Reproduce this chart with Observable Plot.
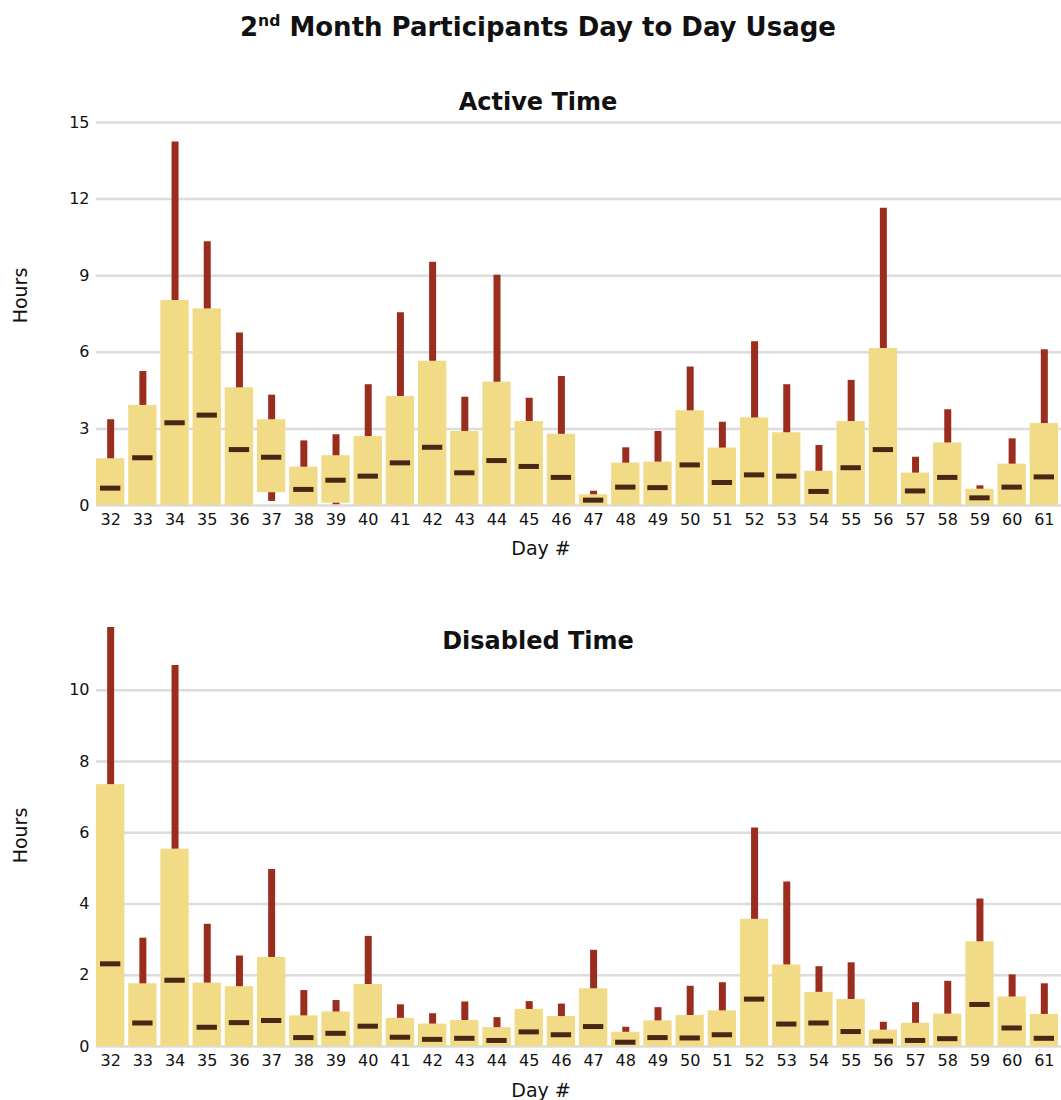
<!DOCTYPE html>
<html>
<head>
<meta charset="utf-8">
<script src="https://cdn.jsdelivr.net/npm/d3@7"></script>
<script src="https://cdn.jsdelivr.net/npm/@observablehq/plot@0.6"></script>
<style>
  body { margin: 0; background: #fff; font-family: "DejaVu Sans", sans-serif; }
  #wrap { position: relative; width: 1061px; height: 1100px; overflow: hidden; }
  #wrap svg { position: absolute; left: 0; }
  .lbl { position: absolute; white-space: nowrap; text-align: center; color: #111; line-height: 1; }
  .title { font-size: 26px; font-weight: bold; width: 800px; left: 138px; top: 14px; }
  .sub { font-size: 24px; font-weight: bold; width: 400px; left: 338px; }
  .xl { font-size: 19px; width: 200px; left: 441px; }
  .yl { font-size: 19px; width: 120px; left: -40px; transform: rotate(-90deg); }
  sup { font-size: 0.6em; line-height: 0; }
</style>
</head>
<body>
<div id="wrap"></div>
<script>
const days = [32,33,34,35,36,37,38,39,40,41,42,43,44,45,46,47,48,49,50,51,52,53,54,55,56,57,58,59,60,61];

// Active time (hours)
const activeLo  = [0,0,0,0,0,0.50,0,0.09,0,0,0,0,0,0,0,0,0,0,0,0,0,0,0,0,0,0,0,0,0,0];
const activeHi  = [1.83,3.92,8.03,7.70,4.61,3.36,1.50,1.95,2.70,4.27,5.65,2.90,4.83,3.29,2.79,0.42,1.66,1.70,3.71,2.25,3.43,2.85,1.34,3.29,6.15,1.27,2.45,0.64,1.62,3.21];
const activeMin = [0,0,0,0,0,0.16,0,0.03,0,0,0,0,0,0,0,0,0,0,0,0,0,0,0,0,0,0,0,0,0,0];
const activeMax = [3.36,5.25,14.24,10.33,6.76,4.32,2.53,2.77,4.73,7.55,9.53,4.24,9.02,4.20,5.05,0.56,2.26,2.90,5.42,3.26,6.41,4.73,2.35,4.90,11.64,1.89,3.75,0.77,2.61,6.10];
const activeMed = [0.68,1.87,3.24,3.54,2.19,1.89,0.63,0.99,1.15,1.67,2.28,1.28,1.76,1.53,1.10,0.21,0.72,0.70,1.59,0.90,1.20,1.15,0.55,1.48,2.19,0.57,1.10,0.30,0.72,1.12];
const activeTicks = [0,3,6,9,12,15];

// Disabled time (hours)
const disabledLo  = [0,0,0,0,0,0,0,0,0,0,0,0,0,0,0,0,0,0,0,0,0,0,0,0,0,0,0,0,0,0];
const disabledHi  = [7.35,1.76,5.54,1.78,1.68,2.50,0.86,0.97,1.74,0.79,0.63,0.73,0.53,1.04,0.84,1.62,0.40,0.72,0.87,1.00,3.57,2.29,1.52,1.32,0.46,0.65,0.91,2.94,1.39,0.90];
const disabledMin = [0,0,0,0,0,0,0,0,0,0,0,0,0,0,0,0,0,0,0,0,0,0,0,0,0,0,0,0,0,0];
const disabledMax = [11.76,3.04,10.69,3.43,2.54,4.97,1.57,1.29,3.09,1.17,0.92,1.25,0.81,1.26,1.19,2.70,0.54,1.09,1.69,1.79,6.13,4.62,2.24,2.35,0.68,1.23,1.83,4.14,2.01,1.76];
const disabledMed = [2.32,0.66,1.86,0.54,0.67,0.73,0.25,0.37,0.57,0.26,0.20,0.23,0.17,0.41,0.33,0.56,0.12,0.25,0.24,0.33,1.33,0.63,0.66,0.42,0.15,0.17,0.22,1.18,0.52,0.23];
const disabledTicks = [0,2,4,6,8,10];

const BAR = "#f2db87", RED = "#9b2d1f", MED = "#4a2614", GRID = "#dcdcdc";

function table(lo, hi, mn, mx, md) {
  return days.map((d, i) => ({day: d, lo: lo[i], hi: hi[i], min: mn[i], max: mx[i], med: md[i]}));
}

function panel(data, ticks, yDomain, height, marginTop, marginBottom) {
  return Plot.plot({
    width: 1061, height, marginTop, marginBottom, marginLeft: 96, marginRight: 0,
    style: {fontFamily: "DejaVu Sans, sans-serif", fontSize: "16px", color: "#111", background: "transparent"},
    x: {type: "band", domain: days, range: [96, 1058], paddingInner: 0.12, paddingOuter: 0, align: 0, round: false,
        label: null, tickSize: 0, tickPadding: 8},
    y: {domain: yDomain, ticks, label: null, tickSize: 0, tickPadding: 7},
    marks: [
      Plot.ruleY(ticks, {stroke: GRID, strokeWidth: 2.5}),
      Plot.ruleX(data, {x: "day", y1: "min", y2: "max", stroke: RED, strokeWidth: 7}),
      Plot.barY(data, {x: "day", y1: "lo", y2: "hi", fill: BAR}),
      Plot.tickY(data, {x: "day", y: "med", stroke: MED, strokeWidth: 5, insetLeft: 4, insetRight: 4})
    ]
  });
}

const wrap = document.getElementById("wrap");
const activeData = table(activeLo, activeHi, activeMin, activeMax, activeMed);
const disabledData = table(disabledLo, disabledHi, disabledMin, disabledMax, disabledMed);

const p1 = panel(activeData, activeTicks, [0, 15], 560, 122, 55);
p1.style.top = "0px";
wrap.appendChild(p1);
const p2 = panel(disabledData, disabledTicks, [0, d3.max(disabledMax)], 540, 67, 54);
p2.style.top = "560px";
wrap.appendChild(p2);

function label(cls, html, top, extra) {
  const d = document.createElement("div");
  d.className = "lbl " + cls;
  d.innerHTML = html;
  d.style.top = top + "px";
  if (extra) Object.assign(d.style, extra);
  wrap.appendChild(d);
}
label("title", "2<sup>nd</sup> Month Participants Day to Day Usage", 14);
label("sub", "Active Time", 90);
label("sub", "Disabled Time", 629);
label("xl", "Day #", 539);
label("xl", "Day #", 1081);
label("yl", "Hours", 286);
label("yl", "Hours", 826);
</script>
</body>
</html>
